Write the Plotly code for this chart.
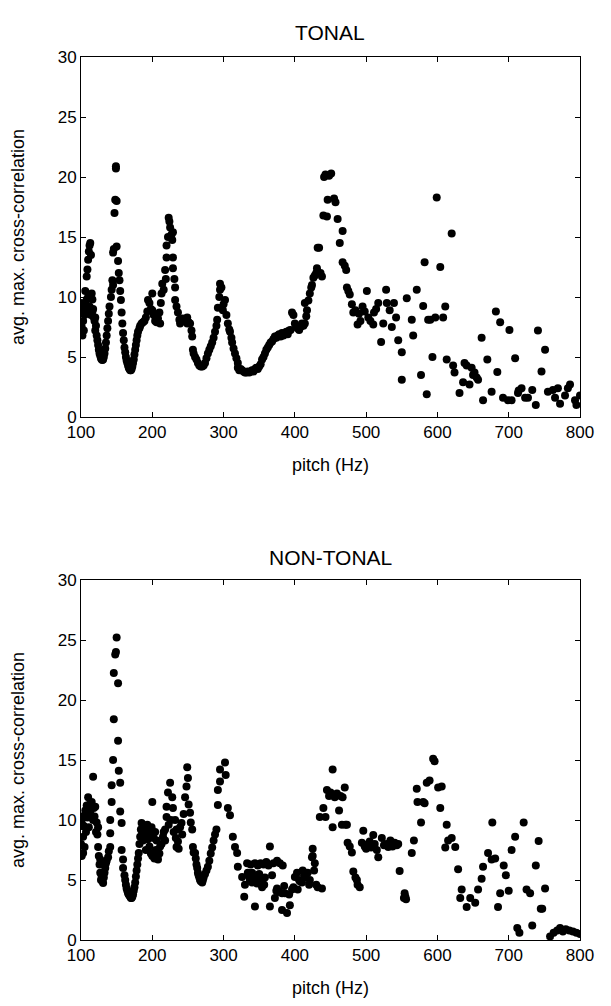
import plotly.graph_objects as go

# (pitch in Hz, avg. max. cross-correlation)
tonal_points = [
    (100, 7.0), (100, 8.8), (100, 9.5), (101, 7.5), (102, 6.8), (102, 9.0), (103, 8.0), (104, 7.2), (104, 9.3), (105, 8.5),
    (106, 9.5), (106, 10.5), (107, 8.8), (108, 11.7), (108, 9.8), (109, 12.3), (110, 13.1), (110, 10.0), (111, 13.8), (112, 14.3),
    (112, 9.2), (113, 14.5), (114, 13.5), (114, 8.5), (115, 10.3), (116, 9.8), (116, 8.8), (117, 9.0), (118, 8.3), (119, 8.0),
    (120, 8.3), (120, 7.2), (121, 7.6), (122, 6.8), (123, 6.4), (124, 6.0), (125, 5.6), (126, 5.3), (127, 5.1), (128, 4.9),
    (129, 4.8), (130, 4.75), (131, 4.8), (132, 5.0), (133, 5.3), (134, 5.7), (135, 6.2), (136, 6.8), (137, 7.4), (138, 8.0),
    (139, 8.6), (140, 9.2), (142, 10.0), (143, 10.6), (144, 11.4), (145, 13.7), (145, 11.0), (146, 14.0), (147, 17.0), (148, 18.1),
    (149, 20.7), (149, 20.9), (150, 18.0), (150, 14.2), (152, 13.0), (153, 12.0), (154, 11.4), (155, 10.5), (156, 9.75), (157, 8.7),
    (158, 7.8), (159, 7.0), (160, 6.4), (161, 5.8), (162, 5.4), (163, 5.0), (164, 4.7), (165, 4.5), (166, 4.3), (167, 4.1),
    (168, 4.0), (169, 3.9), (170, 3.9), (171, 4.0), (172, 4.2), (173, 4.5), (174, 4.8), (175, 5.2), (176, 5.6), (177, 6.0),
    (178, 6.4), (179, 6.8), (180, 7.1), (182, 7.4), (183, 7.6), (185, 7.8), (187, 7.9), (189, 8.0), (191, 8.3), (193, 8.8),
    (194, 9.75), (196, 9.5), (198, 9.0), (200, 10.3), (200, 8.9), (202, 8.5), (204, 8.0), (206, 7.9), (208, 8.2), (210, 8.7),
    (211, 7.8), (212, 9.5), (213, 10.3), (214, 11.1), (216, 10.6), (218, 12.25), (219, 11.5), (220, 13.3), (220, 14.3), (222, 15.0),
    (223, 16.6), (224, 16.3), (225, 15.8), (227, 15.2), (228, 14.75), (229, 13.3), (229, 12.4), (229, 15.4), (231, 11.5), (232, 10.8),
    (232, 9.75), (234, 9.2), (236, 8.7), (238, 8.1), (239, 7.8), (241, 8.0), (243, 8.2), (245, 8.1), (247, 8.0), (249, 8.3),
    (249, 7.8), (251, 7.9), (253, 7.8), (255, 7.2), (256, 6.7), (257, 5.6), (258, 5.3), (260, 5.0), (262, 4.8), (264, 4.5),
    (266, 4.3), (268, 4.2), (270, 4.2), (272, 4.3), (274, 4.5), (276, 4.9), (278, 5.3), (280, 5.6), (282, 5.9), (284, 6.2),
    (286, 6.6), (288, 7.1), (290, 7.6), (291, 8.1), (292, 9.1), (294, 10.0), (295, 11.1), (295, 10.6), (297, 10.8), (299, 8.9),
    (300, 9.4), (302, 9.75), (304, 8.5), (306, 7.8), (308, 7.3), (309, 7.1), (311, 6.6), (312, 6.2), (314, 5.7), (316, 5.3),
    (318, 4.9), (320, 4.5), (320, 4.1), (322, 3.9), (324, 4.0), (326, 3.9), (328, 3.8), (330, 3.7), (332, 3.7), (334, 3.8),
    (336, 3.7), (338, 3.8), (340, 3.9), (342, 3.8), (344, 4.0), (346, 4.1), (348, 4.0), (350, 4.2), (352, 4.4), (354, 4.8),
    (356, 5.0), (358, 5.3), (360, 5.6), (362, 5.8), (364, 6.0), (366, 6.2), (368, 6.3), (370, 6.5), (372, 6.7), (374, 6.6),
    (376, 6.8), (378, 6.9), (380, 6.7), (382, 7.0), (384, 6.8), (386, 7.0), (388, 7.1), (390, 6.9), (392, 7.2), (394, 7.25),
    (396, 8.7), (398, 8.5), (400, 7.8), (402, 7.5), (404, 7.4), (406, 7.25), (408, 7.5), (410, 7.8), (412, 7.6), (414, 9.5),
    (414, 7.8), (416, 8.4), (417, 8.9), (419, 9.7), (421, 10.3), (423, 10.8), (424, 11.0), (426, 11.6), (428, 11.8), (430, 12.0),
    (431, 12.4), (432, 14.1), (434, 14.1), (436, 12.0), (438, 11.7), (440, 16.8), (441, 20.0), (443, 20.2), (445, 16.7), (446, 18.1),
    (448, 20.1), (451, 20.3), (455, 18.2), (457, 17.9), (460, 16.5), (463, 14.5), (467, 15.5), (467, 12.9), (470, 12.6), (472, 12.25),
    (473, 10.8), (475, 10.5), (477, 10.2), (480, 9.4), (482, 8.7), (485, 8.9), (488, 7.7), (490, 8.6), (492, 8.0), (495, 9.2),
    (498, 8.8), (501, 10.5), (503, 8.3), (506, 8.0), (510, 7.7), (511, 8.7), (514, 9.0), (517, 9.5), (521, 6.25), (524, 7.8),
    (528, 10.6), (529, 9.5), (533, 8.9), (536, 7.5), (539, 9.5), (542, 8.3), (545, 6.4), (550, 5.4), (550, 3.1), (557, 9.9),
    (564, 8.1), (566, 6.8), (571, 10.6), (577, 3.5), (580, 9.25), (582, 12.9), (585, 1.9), (587, 8.1), (590, 8.1), (593, 5.0),
    (597, 8.3), (599, 18.3), (604, 12.5), (608, 8.3), (611, 9.2), (613, 4.8), (620, 15.3), (622, 4.3), (624, 3.7), (631, 2.0),
    (636, 2.9), (638, 4.5), (641, 4.3), (645, 2.7), (648, 4.1), (650, 3.5), (652, 3.7), (655, 3.3), (657, 3.1), (662, 6.6),
    (664, 1.4), (670, 4.8), (676, 2.1), (682, 8.8), (684, 3.75), (688, 7.9), (692, 1.6), (699, 1.4), (701, 7.25), (704, 1.4),
    (709, 4.9), (713, 2.0), (714, 2.2), (718, 2.4), (723, 1.6), (727, 1.6), (733, 2.25), (738, 1.0), (741, 7.2), (746, 3.8),
    (751, 5.6), (755, 2.1), (762, 2.25), (765, 1.6), (769, 2.4), (772, 1.1), (779, 1.8), (783, 2.4), (786, 2.7), (793, 1.4),
    (795, 1.0), (800, 1.8),
]

nontonal_points = [
    (100, 9.5), (100, 8.0), (101, 9.75), (101, 7.0), (102, 10.3), (103, 8.6), (103, 7.25), (104, 9.5), (105, 7.75), (106, 10.8),
    (107, 9.0), (108, 11.2), (109, 10.2), (110, 11.9), (111, 9.4), (112, 11.3), (113, 10.6), (114, 11.0), (115, 11.5), (116, 10.2),
    (117, 13.6), (117, 10.0), (118, 11.0), (119, 10.3), (120, 11.1), (121, 9.0), (122, 9.8), (123, 8.8), (124, 9.4), (124, 7.75),
    (125, 7.0), (126, 6.3), (127, 6.7), (127, 5.6), (128, 5.0), (129, 5.3), (130, 4.9), (131, 4.75), (132, 5.2), (133, 5.6),
    (134, 6.0), (135, 6.4), (136, 6.6), (138, 6.9), (139, 7.4), (141, 7.75), (141, 8.9), (141, 10.0), (143, 11.5), (143, 12.9),
    (145, 15.0), (146, 18.4), (146, 22.25), (148, 23.8), (149, 24.0), (150, 25.2), (152, 21.4), (152, 16.6), (153, 14.1), (155, 13.1),
    (155, 10.7), (157, 9.75), (157, 7.5), (159, 6.7), (159, 6.0), (161, 5.4), (162, 5.0), (163, 4.6), (164, 4.3), (165, 4.1),
    (166, 3.9), (167, 3.8), (168, 3.7), (169, 3.6), (170, 3.5), (171, 3.5), (172, 3.6), (173, 3.8), (174, 4.1), (175, 4.4),
    (176, 4.8), (177, 5.3), (178, 5.8), (179, 6.3), (180, 6.8), (181, 7.25), (182, 8.0), (183, 8.6), (184, 9.2), (185, 9.75),
    (186, 9.0), (187, 8.3), (188, 9.5), (189, 8.8), (190, 9.2), (191, 7.5), (192, 9.0), (193, 9.6), (194, 8.4), (195, 9.2),
    (196, 7.8), (197, 8.8), (198, 7.2), (199, 9.4), (200, 11.5), (200, 7.0), (202, 8.5), (203, 6.8), (204, 9.0), (205, 7.5),
    (206, 8.3), (207, 6.9), (208, 6.7), (210, 7.2), (211, 7.8), (213, 8.0), (215, 8.6), (216, 9.0), (218, 9.2), (218, 8.3),
    (220, 10.25), (220, 11.1), (222, 12.3), (223, 9.6), (225, 13.1), (226, 10.0), (228, 11.9), (229, 11.0), (230, 9.0), (232, 10.0),
    (233, 8.5), (234, 9.2), (234, 7.75), (236, 8.2), (237, 7.6), (239, 9.4), (241, 9.75), (242, 8.8), (244, 10.5), (246, 11.9),
    (248, 12.8), (249, 14.4), (250, 13.5), (251, 11.3), (253, 10.6), (254, 9.8), (256, 9.2), (257, 7.75), (258, 7.3), (260, 7.25),
    (261, 6.8), (262, 6.3), (263, 6.0), (264, 5.6), (265, 5.4), (266, 5.2), (267, 5.0), (268, 4.9), (270, 4.8), (271, 5.0),
    (272, 5.2), (274, 5.5), (276, 5.8), (278, 6.1), (280, 6.6), (282, 7.2), (284, 7.7), (286, 8.3), (288, 8.8), (290, 9.2),
    (292, 11.25), (292, 12.5), (295, 13.2), (295, 14.2), (302, 14.8), (303, 13.75), (306, 11.0), (309, 10.4), (313, 8.6), (316, 7.75),
    (319, 7.25), (320, 6.1), (326, 5.25), (329, 3.6), (330, 4.6), (333, 6.4), (334, 5.6), (336, 5.3), (337, 5.0), (338, 6.3),
    (340, 5.6), (340, 4.8), (342, 5.0), (344, 2.8), (344, 6.4), (346, 5.4), (347, 4.7), (348, 6.2), (350, 5.5), (352, 6.4),
    (352, 5.1), (354, 4.4), (356, 6.3), (357, 4.6), (358, 5.2), (360, 6.5), (363, 6.2), (365, 7.8), (365, 2.8), (368, 5.4),
    (370, 6.4), (372, 3.5), (374, 4.1), (375, 4.3), (375, 6.6), (378, 4.0), (379, 6.4), (382, 3.9), (382, 2.5), (383, 6.2),
    (385, 4.5), (386, 3.9), (389, 2.25), (392, 3.8), (393, 2.9), (396, 4.2), (398, 4.4), (400, 5.25), (403, 5.6), (404, 4.2),
    (406, 5.0), (407, 4.9), (410, 4.8), (411, 5.8), (413, 5.4), (415, 5.2), (418, 5.6), (420, 4.6), (421, 5.0), (424, 6.9),
    (425, 7.6), (425, 7.0), (427, 5.8), (428, 6.4), (430, 4.6), (432, 4.4), (435, 10.25), (438, 4.3), (440, 11.0), (443, 10.25),
    (445, 12.5), (448, 12.0), (450, 12.3), (453, 14.2), (453, 9.4), (456, 11.9), (459, 12.2), (462, 10.8), (464, 12.0), (466, 9.6),
    (467, 11.9), (470, 12.7), (471, 9.6), (473, 9.6), (474, 8.1), (477, 7.8), (480, 7.3), (482, 5.7), (485, 5.2), (487, 5.0),
    (488, 4.6), (491, 4.4), (494, 8.1), (496, 9.1), (498, 7.8), (500, 7.6), (503, 8.0), (505, 8.2), (507, 7.7), (510, 8.75),
    (512, 8.0), (515, 7.5), (517, 6.9), (522, 8.5), (525, 7.9), (528, 8.0), (531, 7.75), (534, 8.3), (537, 7.8), (540, 8.1),
    (543, 7.9), (545, 8.0), (547, 5.75), (553, 3.5), (554, 3.9), (555, 3.6), (556, 3.4), (564, 7.25), (567, 8.3), (571, 12.6),
    (572, 11.5), (577, 9.8), (580, 11.5), (582, 11.4), (585, 13.1), (589, 13.3), (594, 15.1), (596, 14.9), (601, 12.7), (604, 11.0),
    (606, 12.8), (611, 7.7), (613, 9.6), (615, 8.3), (620, 8.5), (625, 7.75), (629, 5.9), (632, 3.5), (634, 4.2), (641, 2.75),
    (646, 3.5), (653, 3.1), (657, 4.2), (662, 5.1), (664, 6.1), (671, 7.25), (676, 6.7), (677, 9.8), (681, 6.8), (685, 2.75),
    (688, 3.9), (693, 6.2), (696, 5.4), (700, 4.1), (704, 7.5), (709, 8.6), (712, 1.0), (715, 0.6), (721, 9.8), (725, 4.2),
    (730, 3.9), (733, 1.2), (738, 6.2), (742, 8.25), (745, 2.6), (747, 2.6), (751, 4.3), (758, 0.3), (763, 0.6), (768, 0.8),
    (772, 1.0), (776, 0.7), (780, 0.9), (785, 0.8), (790, 0.7), (795, 0.6), (800, 0.5),
]

panel_titles = ["TONAL", "NON-TONAL"]
x_ticks = [100, 200, 300, 400, 500, 600, 700, 800]
y_ticks = [0, 5, 10, 15, 20, 25, 30]

FONT = "Liberation Sans, Arial, Helvetica, sans-serif"

# the html page puts the plot 8px in from the top-left corner, so lay out
# in page pixels and subtract that offset
OFF = 8
W, H = 611 - OFF, 1006 - OFF - 8

def px_x(x):
    return (x - OFF) / W

def px_y(y):
    return 1 - (y - OFF) / H

fig = go.Figure()

# one scatter per panel, plain black dots like the matlab original
for i, pts in enumerate([tonal_points, nontonal_points]):
    suffix = "" if i == 0 else "2"
    fig.add_trace(go.Scatter(
        x=[p[0] for p in pts],
        y=[p[1] for p in pts],
        mode="markers",
        marker=dict(color="black", size=8, line=dict(width=0)),
        xaxis="x" + suffix,
        yaxis="y" + suffix,
        showlegend=False,
        hoverinfo="x+y",
    ))

def x_axis(anchor):
    return dict(
        domain=[px_x(81), px_x(580)], anchor=anchor, range=[100, 800],
        tickvals=x_ticks, ticks="inside", ticklen=5, tickcolor="black",
        showline=True, linecolor="black", linewidth=1, mirror="ticks",
        showgrid=False, zeroline=False, automargin=False,
        tickfont=dict(size=17, color="black"),
        title=dict(text="pitch (Hz)", font=dict(size=18, color="black"), standoff=16),
    )

def y_axis(anchor, domain):
    return dict(
        domain=domain, anchor=anchor, range=[0, 30],
        tickvals=y_ticks, ticks="inside", ticklen=5, tickcolor="black",
        showline=True, linecolor="black", linewidth=1, mirror="ticks",
        showgrid=False, zeroline=False, automargin=False,
        tickfont=dict(size=17, color="black"),
        title=dict(text="avg. max. cross-correlation", font=dict(size=18, color="black"), standoff=30),
    )

top_dom = [px_y(417), px_y(57)]
bot_dom = [px_y(940), px_y(580)]

fig.update_layout(
    width=W, height=H,
    margin=dict(l=0, r=0, t=0, b=0),
    paper_bgcolor="white", plot_bgcolor="white",
    font=dict(family=FONT, color="black"),
    xaxis=x_axis("y"),
    yaxis=y_axis("x", top_dom),
    xaxis2=x_axis("y2"),
    yaxis2=y_axis("x2", bot_dom),
    annotations=[
        dict(text=panel_titles[0], x=px_x(330), y=px_y(32), xref="paper", yref="paper",
             showarrow=False, font=dict(size=21, color="black"), xanchor="center", yanchor="middle"),
        dict(text=panel_titles[1], x=px_x(330), y=px_y(557), xref="paper", yref="paper",
             showarrow=False, font=dict(size=21, color="black"), xanchor="center", yanchor="middle"),
    ],
)

fig.write_html("out.html")
